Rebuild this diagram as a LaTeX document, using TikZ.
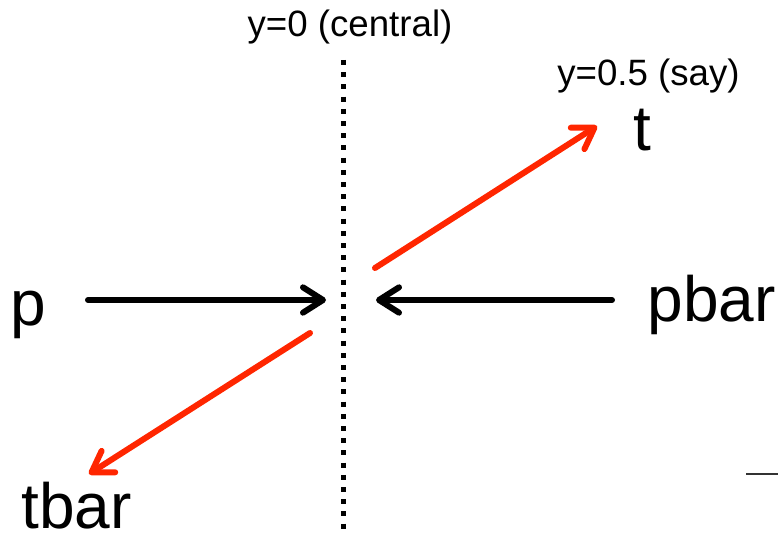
\documentclass[tikz,border=0pt]{standalone}
\usepackage{fontspec}
\setmainfont{Liberation Sans}
\usetikzlibrary{arrows.meta}
\definecolor{arrowred}{RGB}{255,38,0}
\tikzset{
  biglabel/.style={inner sep=0pt, anchor=base, text depth=0pt, font=\fontsize{48}{50}\selectfont},
  smalllabel/.style={inner sep=0pt, anchor=base, font=\fontsize{27.5}{30}\selectfont},
  beam/.style={line width=4.5pt, -{Straight Barb[length=15pt, width=19pt, round]}, line join=round, line cap=round},
  particle/.style={beam, draw=arrowred},
  axis/.style={line width=3.75pt, dash pattern=on 3.75pt off 5.4pt}
}
\begin{document}
\begin{tikzpicture}[x=0.75pt, y=-0.75pt]
  \useasboundingbox (0,0) rectangle (778,535);

  % central plane
  \coordinate (axtop) at (343,60);
  \coordinate (axbot) at (343,537);
  \draw[axis] (axtop) -- (axbot);
  \node[smalllabel] (central) at (350,37) {y=0 (central)};
  \node[smalllabel] (say) at (648.5,85) {y=0.5 (say)};

  % particle labels
  \node[biglabel] (p) at (28,325) {p};
  \node[biglabel] (pbar) at (711.5,321) {pbar};
  \node[biglabel] (t) at (642,150) {t};
  \node[biglabel] (tbar) at (76.5,528) {tbar};

  % arrow ends
  \coordinate (pin) at (88,300);
  \coordinate (pout) at (326,300);
  \coordinate (pbarin) at (612,300);
  \coordinate (pbarout) at (376,300);
  \coordinate (tfrom) at (375,268);
  \coordinate (tto) at (597,126);
  \coordinate (tbarfrom) at (310,333);
  \coordinate (tbarto) at (89,474);

  % incoming beams
  \draw[beam] (pin) -- (pout);
  \draw[beam] (pbarin) -- (pbarout);

  % outgoing top quarks
  \draw[particle] (tfrom) -- (tto);
  \draw[particle] (tbarfrom) -- (tbarto);

  % short rule at the lower right
  \coordinate (rulea) at (746,474);
  \coordinate (ruleb) at (778,474);
  \draw[line width=1.8pt, black!80] (rulea) -- (ruleb);
\end{tikzpicture}
\end{document}
